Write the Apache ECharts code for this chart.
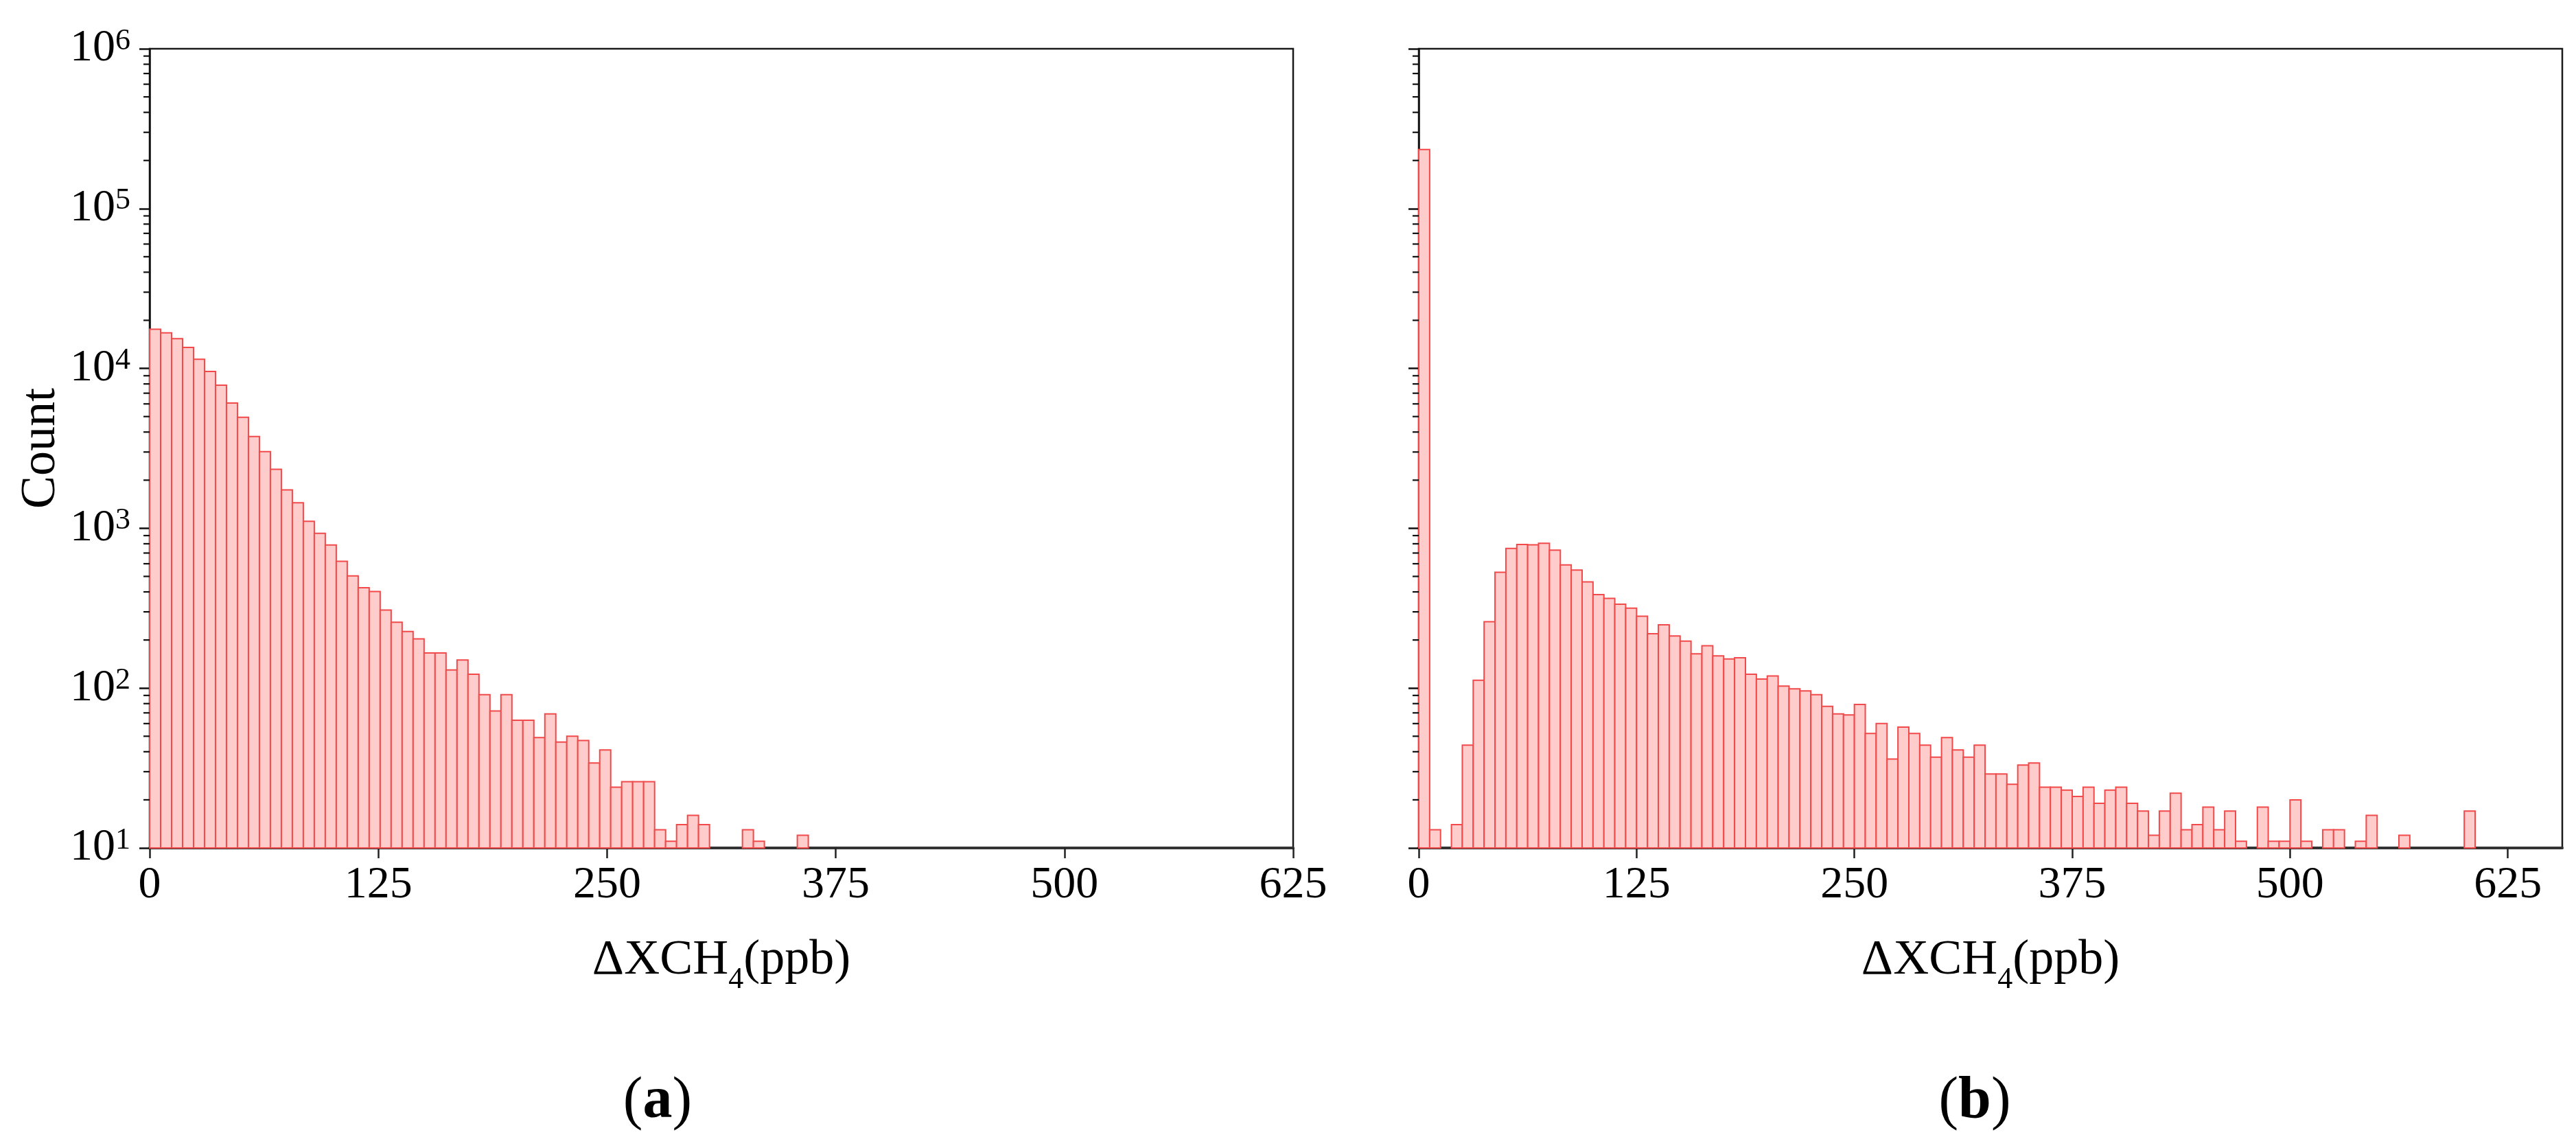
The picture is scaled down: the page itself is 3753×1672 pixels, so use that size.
<!DOCTYPE html>
<html>
<head>
<meta charset="utf-8">
<script src="https://cdn.jsdelivr.net/npm/echarts@6/dist/echarts.min.js"></script>
<style>
  html, body { margin: 0; padding: 0; background: #fff; }
  #chart { width: 3753px; height: 1672px; }
</style>
</head>
<body>
<div id="chart"></div>
<script>
// panel (a): histogram counts, 6 ppb bins starting at 0
const binWidthA = 6;
const countsA = [17580, 16700, 15350, 13520, 11420, 9580, 7850, 6080, 4950, 3750,
  3020, 2340, 1740, 1445, 1105, 931, 785, 622, 504, 425,
  402, 308, 258, 226, 203, 166, 166, 130, 150, 122,
  91, 72, 91, 63, 63, 49, 69, 46, 50, 47,
  34, 41, 24, 26, 26, 26, 13, 11, 14, 16,
  14, 0, 0, 0, 13, 11, 0, 0, 0, 12];

// panel (b): histogram counts, 6.25 ppb bins starting at 0
const binWidthB = 6.25;
const countsB = [234000, 13, 0, 14, 44, 112, 260, 531, 748, 792,
  787, 805, 730, 590, 548, 462, 385, 364, 335, 316,
  282, 219, 249, 212, 197, 164, 184, 159, 152, 155,
  122, 114, 119, 103, 99, 96, 91, 77, 69, 68,
  79, 52, 60, 36, 57, 52, 44, 37, 49, 41,
  37, 44, 29, 29, 25, 33, 34, 24, 24, 23,
  21, 24, 19, 23, 24, 19, 17, 12, 17, 22,
  13, 14, 18, 13, 17, 11, 0, 18, 11, 11,
  20, 11, 0, 13, 13, 0, 11, 16, 0, 0,
  12, 0, 0, 0, 0, 0, 17];

const xTicks = [0, 125, 250, 375, 500, 625];
const xMaxA = 625;
const xMaxB = 656.25;
const yMin = 10;
const yMax = 1000000;
const minorTicks = [20, 30, 40, 50, 60, 70, 80, 90,
  200, 300, 400, 500, 600, 700, 800, 900,
  2000, 3000, 4000, 5000, 6000, 7000, 8000, 9000,
  20000, 30000, 40000, 50000, 60000, 70000, 80000, 90000,
  200000, 300000, 400000, 500000, 600000, 700000, 800000, 900000];

const FONT = '"Liberation Serif", "Times New Roman", serif';

function toBins(counts, w) {
  return counts
    .map((c, i) => [i * w, (i + 1) * w, c])
    .filter(d => d[2] > 0);
}

function renderBar(params, api) {
  const top = api.coord([api.value(0), api.value(2)]);
  const bottom = api.coord([api.value(1), yMin]);
  return {
    type: 'rect',
    shape: { x: top[0], y: top[1], width: bottom[0] - top[0], height: bottom[1] - top[1] },
    style: { fill: '#ffcccc', stroke: '#f24a4a', lineWidth: 2 }
  };
}

function renderMinorTick(params, api) {
  const p = api.coord([0, api.value(1)]);
  return {
    type: 'line',
    shape: { x1: p[0] - 9, y1: p[1], x2: p[0], y2: p[1] },
    style: { stroke: '#111', lineWidth: 2.2 }
  };
}

function xAxisFor(gridIndex, xMax) {
  return {
    type: 'value', gridIndex: gridIndex, min: 0, max: xMax, interval: 125,
    axisLine: { onZero: false, lineStyle: { color: '#333', width: 4 } },
    axisTick: { length: 15, customValues: xTicks, lineStyle: { color: '#222', width: 2.5 } },
    axisLabel: { margin: 22, customValues: xTicks, fontFamily: FONT, fontSize: 66, color: '#000' },
    splitLine: { show: false },
    name: '{n|ΔXCH}{sub|4}{n|(ppb)}',
    nameLocation: 'middle',
    nameGap: 128,
    nameTextStyle: {
      verticalAlign: 'top',
      rich: {
        n: { fontFamily: FONT, fontSize: 72, lineHeight: 72, verticalAlign: 'top', color: '#000' },
        sub: { fontFamily: FONT, fontSize: 44, padding: [42, 0, 0, 0], verticalAlign: 'top', color: '#000' }
      }
    }
  };
}

function yAxisFor(gridIndex, showLabels) {
  return {
    type: 'log', logBase: 10, gridIndex: gridIndex, min: yMin, max: yMax, splitNumber: 5,
    axisLine: { show: true, onZero: false, lineStyle: { color: '#111', width: 2.5 } },
    axisTick: { show: true, length: 15, lineStyle: { color: '#111', width: 2.5 } },
    axisLabel: {
      show: showLabels, margin: 28, showMinLabel: true, showMaxLabel: true,
      formatter: v => '{b|10}{s|' + Math.round(Math.log10(v)) + '}',
      rich: {
        b: { fontFamily: FONT, fontSize: 66, lineHeight: 66, color: '#000' },
        s: { fontFamily: FONT, fontSize: 44, lineHeight: 22, verticalAlign: 'top', color: '#000' }
      }
    },
    splitLine: { show: false },
    name: showLabels ? 'Count' : '',
    nameLocation: 'middle',
    nameRotate: 90,
    nameGap: 122,
    nameTextStyle: { fontFamily: FONT, fontSize: 72, color: '#000' }
  };
}

const chart = echarts.init(document.getElementById('chart'));

const option = {
  backgroundColor: '#fff',
  animation: false,
  grid: [
    { left: 218, top: 71, width: 1666, height: 1164, show: true, borderColor: '#1a1a1a', borderWidth: 2.5, outerBoundsMode: 'none' },
    { left: 2067, top: 71, width: 1666, height: 1164, show: true, borderColor: '#1a1a1a', borderWidth: 2.5, outerBoundsMode: 'none' }
  ],
  xAxis: [xAxisFor(0, xMaxA), xAxisFor(1, xMaxB)],
  yAxis: [yAxisFor(0, true), yAxisFor(1, false)],
  series: [
    {
      type: 'custom', name: 'a', xAxisIndex: 0, yAxisIndex: 0,
      renderItem: renderBar, encode: { x: [0, 1], y: 2 },
      data: toBins(countsA, binWidthA)
    },
    {
      type: 'custom', name: 'b', xAxisIndex: 1, yAxisIndex: 1,
      renderItem: renderBar, encode: { x: [0, 1], y: 2 },
      data: toBins(countsB, binWidthB)
    },
    {
      type: 'custom', xAxisIndex: 0, yAxisIndex: 0, silent: true,
      renderItem: renderMinorTick, encode: { x: 0, y: 1 },
      data: minorTicks.map(v => [0, v])
    },
    {
      type: 'custom', xAxisIndex: 1, yAxisIndex: 1, silent: true,
      renderItem: renderMinorTick, encode: { x: 0, y: 1 },
      data: minorTicks.map(v => [0, v])
    }
  ],
  graphic: [
    {
      type: 'text', x: 958, y: 1605,
      style: {
        text: '{p|(}{b|a}{p|)}', align: 'center', verticalAlign: 'middle', fill: '#000',
        rich: {
          p: { fontFamily: FONT, fontSize: 86, fill: '#000' },
          b: { fontFamily: FONT, fontSize: 86, fontWeight: 'bold', fill: '#000' }
        }
      }
    },
    {
      type: 'text', x: 2877, y: 1605,
      style: {
        text: '{p|(}{b|b}{p|)}', align: 'center', verticalAlign: 'middle', fill: '#000',
        rich: {
          p: { fontFamily: FONT, fontSize: 86, fill: '#000' },
          b: { fontFamily: FONT, fontSize: 86, fontWeight: 'bold', fill: '#000' }
        }
      }
    }
  ]
};

chart.setOption(option);
</script>
</body>
</html>
